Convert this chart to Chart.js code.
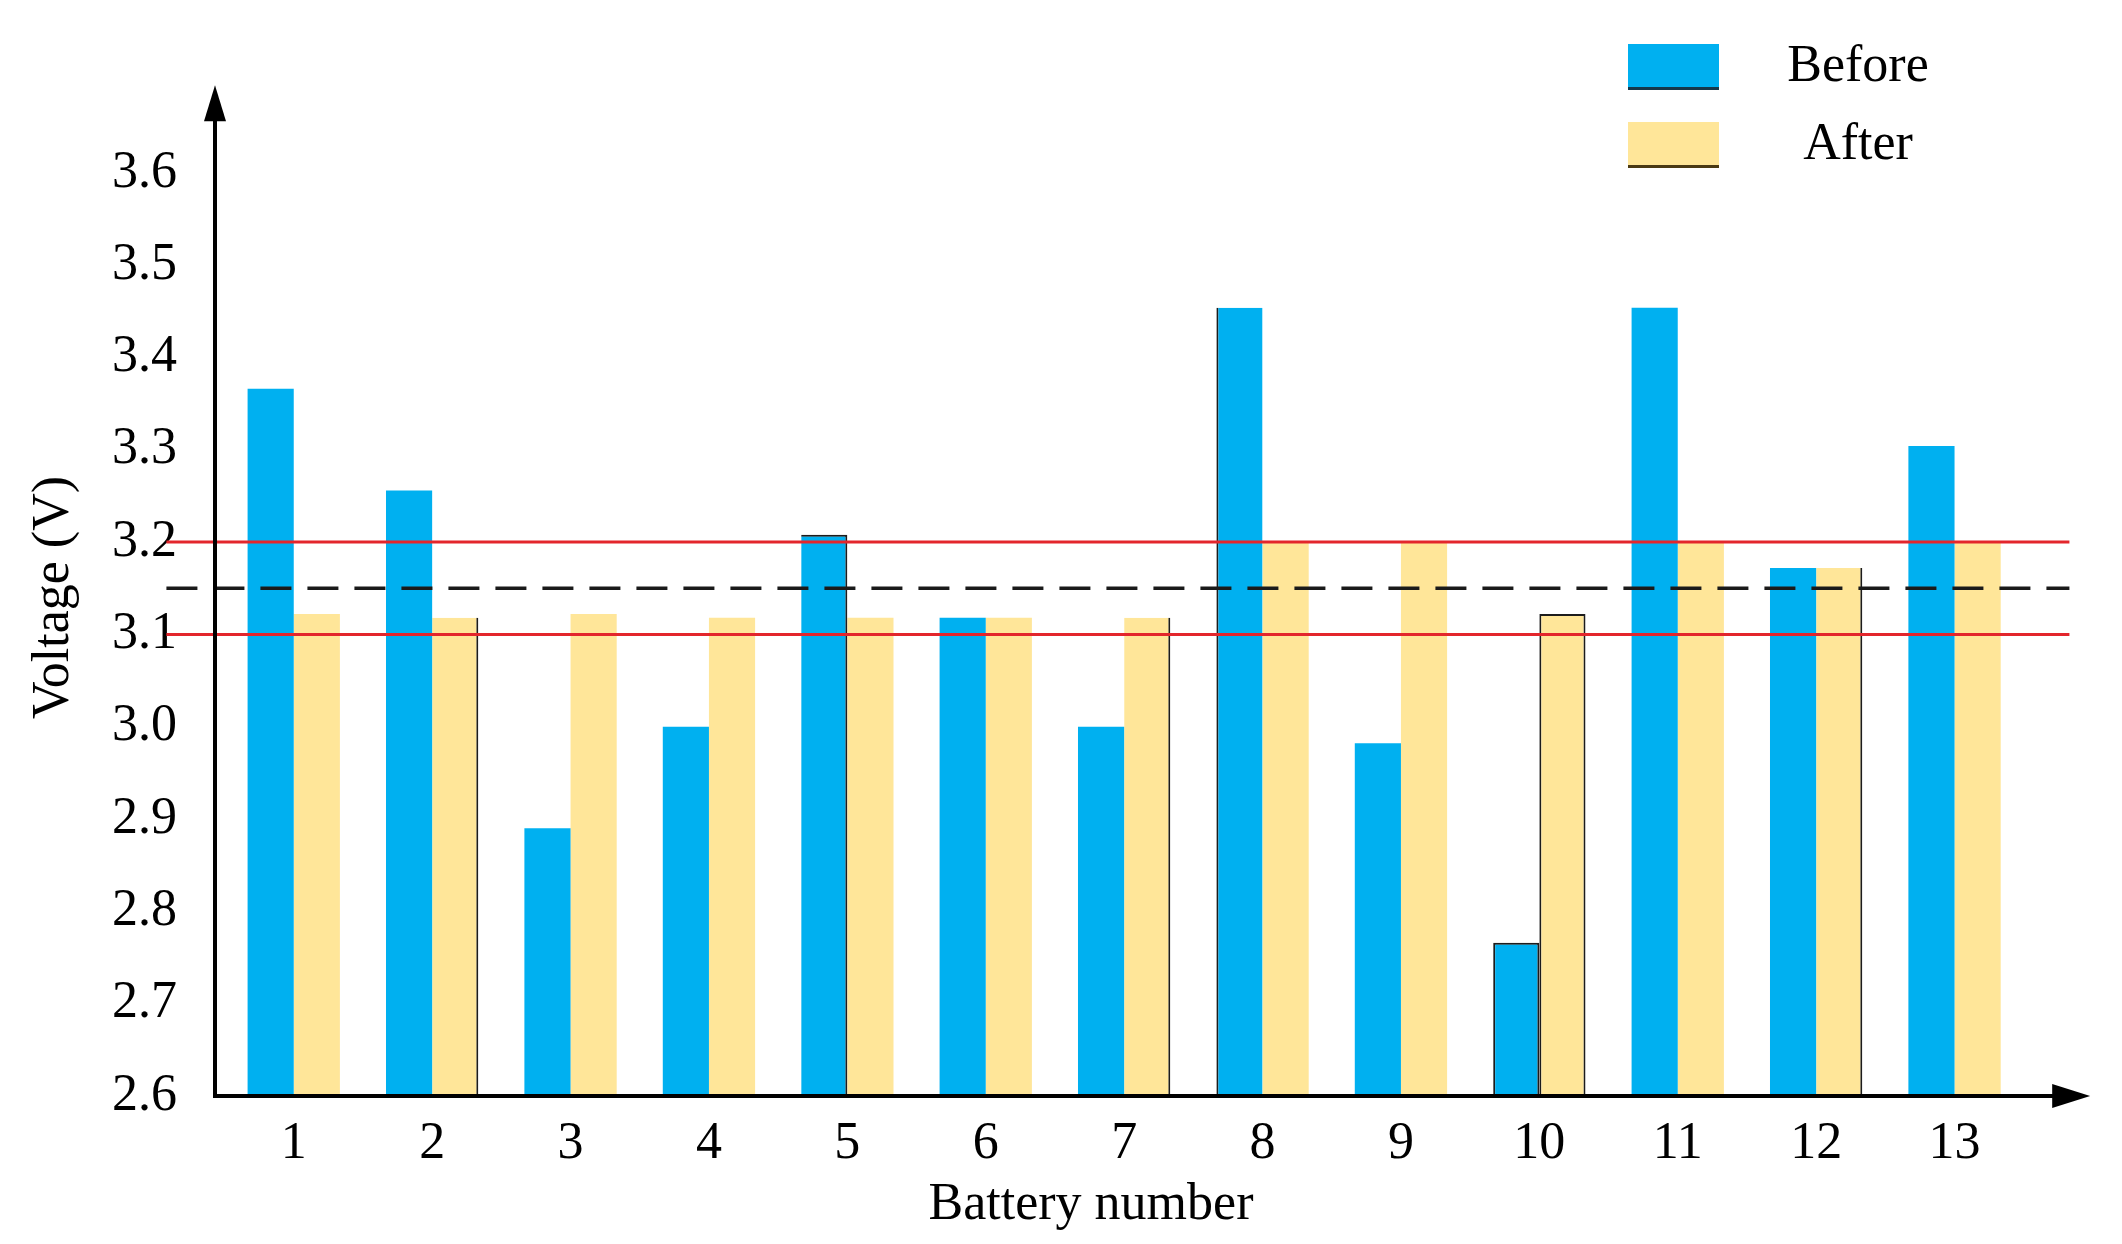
<!DOCTYPE html>
<html>
<head>
<meta charset="utf-8">
<script src="https://cdn.jsdelivr.net/npm/chart.js@4.4.1/dist/chart.umd.min.js"></script>
<style>
  html, body { margin: 0; padding: 0; background: #fff; }
  #wrap { width: 2122px; height: 1244px; }
</style>
</head>
<body>
<div id="wrap"><canvas id="voltageChart" width="2122" height="1244"></canvas></div>
<script>
// Cell voltages before / after balancing
const batteryNumbers = [1, 2, 3, 4, 5, 6, 7, 8, 9, 10, 11, 12, 13];
const voltageBefore = [3.366, 3.256, 2.89, 3.00, 3.208, 3.118, 3.00, 3.454, 2.982, 2.766, 3.454, 3.172, 3.304];
const voltageAfter = [3.122, 3.118, 3.122, 3.118, 3.118, 3.118, 3.118, 3.20, 3.20, 3.122, 3.20, 3.172, 3.20];
const voltageTicks = [2.6, 2.7, 2.8, 2.9, 3.0, 3.1, 3.2, 3.3, 3.4, 3.5, 3.6];

// Reference lines (V) and their span in battery-number units
const upperLimit = 3.2;
const lowerLimit = 3.1;
const meanVoltage = 3.15;
const refSpan = [0.08, 13.83];

// Where the axis arrows end, in data units
const axisEnd = { x: 13.98, y: 3.695 };

const colors = {
    before: '#00B0F0',
    after: '#FFE699',
    limit: '#E3262C',
    mean: '#1a1a1a',
    edge: '#1c1c1c'
};

// Thin dark edges seen on some bars of the original
const edgesBefore = { 5: ['top', 'right'], 8: ['left'], 10: ['top', 'left', 'right'] };
const edgesAfter = { 2: ['right'], 7: ['right'], 10: ['top', 'left', 'right'], 12: ['right'] };

function edgeWidth(map) {
    return function(ctx) {
        const e = map[batteryNumbers[ctx.dataIndex]];
        if (!e) return 0;
        return {
            top: e.includes('top') ? 2 : 0,
            left: e.includes('left') ? 2 : 0,
            right: e.includes('right') ? 2 : 0,
            bottom: 0
        };
    };
}

function refLine(value, color, width, dash) {
    return {
        type: 'line',
        data: refSpan.map(x => ({ x: x, y: value })),
        borderColor: color,
        borderWidth: width,
        borderDash: dash,
        pointRadius: 0,
        clip: false,
        order: 0
    };
}

// Axis lines with arrow heads
const arrowAxes = {
    id: 'arrowAxes',
    afterDraw(chart) {
        const { ctx, chartArea, scales } = chart;
        const x0 = chartArea.left;
        const y0 = chartArea.bottom;
        const yTip = scales.y.getPixelForValue(axisEnd.y);
        const xTip = scales.x.getPixelForValue(axisEnd.x);
        ctx.save();
        ctx.strokeStyle = '#000';
        ctx.fillStyle = '#000';
        ctx.lineWidth = 4;
        ctx.beginPath();
        ctx.moveTo(x0, y0 + 2);
        ctx.lineTo(x0, yTip + 20);
        ctx.moveTo(x0 - 2, y0);
        ctx.lineTo(xTip - 20, y0);
        ctx.stroke();
        ctx.beginPath();
        ctx.moveTo(x0, yTip);
        ctx.lineTo(x0 - 11, yTip + 36);
        ctx.lineTo(x0 + 11, yTip + 36);
        ctx.closePath();
        ctx.fill();
        ctx.beginPath();
        ctx.moveTo(xTip, y0);
        ctx.lineTo(xTip - 38, y0 - 12);
        ctx.lineTo(xTip - 38, y0 + 12);
        ctx.closePath();
        ctx.fill();
        ctx.restore();
    }
};

// Legend: boxes on the left, centred labels on the right
const boxLegend = {
    id: 'boxLegend',
    afterDraw(chart, args, opts) {
        const { ctx } = chart;
        const bars = chart.data.datasets.filter(d => d.type === 'bar');
        ctx.save();
        ctx.font = opts.font;
        ctx.textAlign = 'center';
        ctx.textBaseline = 'middle';
        bars.forEach((d, i) => {
            const top = opts.y + i * opts.rowGap;
            ctx.fillStyle = d.backgroundColor;
            ctx.fillRect(opts.x, top, opts.boxW, opts.boxH);
            ctx.fillStyle = opts.lineColors[i];
            ctx.fillRect(opts.x, top + opts.boxH - 3, opts.boxW, 3);
            ctx.fillStyle = '#000';
            ctx.fillText(d.label, opts.textX, top + opts.boxH / 2);
        });
        ctx.restore();
    }
};

Chart.defaults.font.family = "'Liberation Serif', 'DejaVu Serif', serif";
Chart.defaults.font.size = 52;
Chart.defaults.color = '#000';

// Bars may run past the right edge of the plot area, but never below the axis
const barClip = { left: 0, top: 0, right: false, bottom: 0 };

new Chart(document.getElementById('voltageChart'), {
    type: 'bar',
    data: {
        datasets: [
            refLine(upperLimit, colors.limit, 3, []),
            refLine(lowerLimit, colors.limit, 3, []),
            refLine(meanVoltage, colors.mean, 3.5, [31, 16]),
            {
                type: 'bar',
                label: 'Before',
                data: batteryNumbers.map((n, i) => ({ x: n, y: voltageBefore[i] })),
                backgroundColor: colors.before,
                borderColor: colors.edge,
                borderWidth: edgeWidth(edgesBefore),
                borderSkipped: false,
                base: voltageTicks[0],
                clip: barClip,
                order: 1
            },
            {
                type: 'bar',
                label: 'After',
                data: batteryNumbers.map((n, i) => ({ x: n, y: voltageAfter[i] })),
                backgroundColor: colors.after,
                borderColor: colors.edge,
                borderWidth: edgeWidth(edgesAfter),
                borderSkipped: false,
                base: voltageTicks[0],
                clip: barClip,
                order: 1
            }
        ]
    },
    options: {
        responsive: false,
        animation: false,
        devicePixelRatio: 1,
        layout: { padding: { top: 99, right: 155, bottom: 0, left: 0 } },
        datasets: {
            bar: { categoryPercentage: 0.667, barPercentage: 1.0 }
        },
        scales: {
            x: {
                type: 'linear',
                offset: false,
                min: 0.431,
                max: 13.09,
                grid: { display: false, drawTicks: false, offset: false },
                border: { display: false },
                afterBuildTicks: s => { s.ticks = batteryNumbers.map(v => ({ value: v })); },
                afterFit: s => { s.height = 148; },
                ticks: {
                    padding: 17,
                    autoSkip: false,
                    maxRotation: 0,
                    callback: v => String(v)
                },
                title: {
                    display: true,
                    text: 'Battery number',
                    padding: { top: 0, bottom: 7 }
                }
            },
            y: {
                min: 2.6,
                max: 3.68,
                grid: { display: false, drawTicks: false },
                border: { display: false },
                afterBuildTicks: s => { s.ticks = voltageTicks.map(v => ({ value: v })); },
                afterFit: s => { s.width = 215; },
                ticks: {
                    padding: 38,
                    callback: v => Number(v).toFixed(1)
                },
                title: {
                    display: true,
                    text: 'Voltage (V)',
                    padding: { top: 23, bottom: 0 }
                }
            }
        },
        plugins: {
            legend: { display: false },
            tooltip: { enabled: false },
            boxLegend: {
                x: 1628, y: 44, boxW: 91, boxH: 46, rowGap: 78, textX: 1858,
                font: "52px 'Liberation Serif', 'DejaVu Serif', serif",
                lineColors: ['#15384a', '#4a3a14']
            }
        }
    },
    plugins: [arrowAxes, boxLegend]
});
</script>
</body>
</html>
